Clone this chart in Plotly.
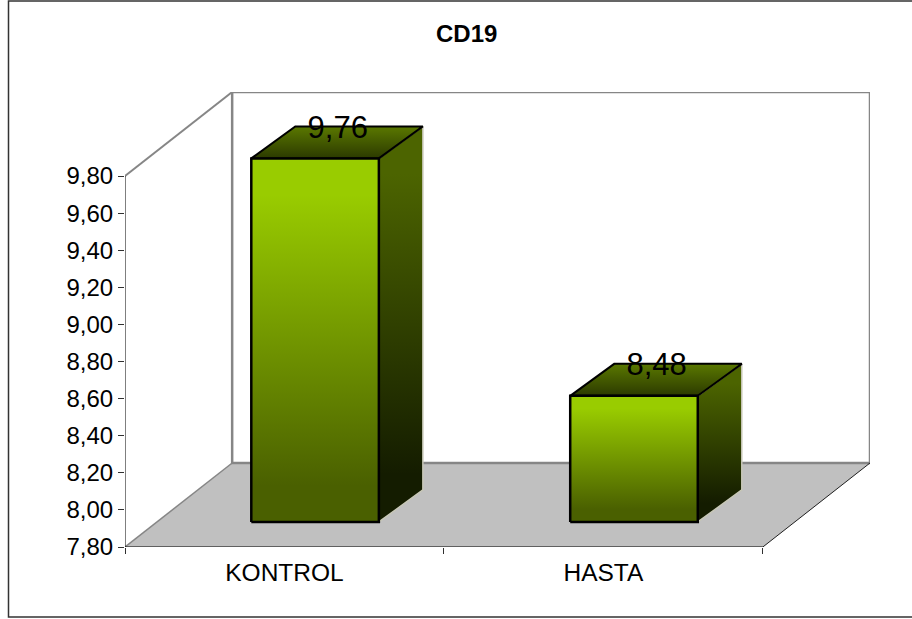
import plotly.graph_objects as go

categories = ["KONTROL", "HASTA"]
values = [9.76, 8.48]
y_ticks = [7.8, 8.0, 8.2, 8.4, 8.6, 8.8, 9.0, 9.2, 9.4, 9.6, 9.8]
chart_title = "CD19"

# Oblique projection, expressed in axis units
AX_MIN, AX_MAX = 7.8, 9.8
BAR_HALF = 0.2
BAR_SHIFT_X, BAR_SHIFT_Y = 0.096, 0.135
BAR_DEPTH_X, BAR_DEPTH_Y = 0.138, 0.1725
WALL_X, WALL_Y = 0.336, 0.453
LEFT, RIGHT = -0.5, len(categories) - 0.5

FONT = "Liberation Sans, Arial, sans-serif"
W, H = 912, 619
M_L, M_R, M_T, M_B = 125, 42, 92, 72

fig = go.Figure()


def poly(xs, ys, line=None, width=1, grad=None, fill=None):
    kw = dict(x=xs, y=ys, mode="lines", hoverinfo="skip", showlegend=False, cliponaxis=False)
    kw["line"] = dict(color=line or "rgba(0,0,0,0)", width=width)
    if grad:
        kw["fill"] = "toself"
        kw["fillgradient"] = dict(type="vertical", colorscale=grad)
    elif fill:
        kw["fill"] = "toself"
        kw["fillcolor"] = fill
    fig.add_trace(go.Scatter(**kw))


# Floor
poly([LEFT, RIGHT, RIGHT + WALL_X, LEFT + WALL_X, LEFT],
     [AX_MIN, AX_MIN, AX_MIN + WALL_Y, AX_MIN + WALL_Y, AX_MIN], fill="#C0C0C0")

# Back wall and its connection to the value axis
wall_top = AX_MAX + WALL_Y
poly([LEFT + WALL_X, RIGHT + WALL_X, RIGHT + WALL_X, LEFT + WALL_X, LEFT + WALL_X],
     [wall_top, wall_top, AX_MIN + WALL_Y, AX_MIN + WALL_Y, wall_top],
     line="#868686", width=2.5)
poly([LEFT, LEFT + WALL_X], [AX_MAX, wall_top], line="#868686", width=2)
poly([LEFT, LEFT + WALL_X], [AX_MIN, AX_MIN + WALL_Y], line="#868686", width=1.5)
poly([RIGHT, RIGHT + WALL_X], [AX_MIN, AX_MIN + WALL_Y], line="#202020", width=1)

FRONT_GRAD = [[0, "#4A6000"], [0.1, "#4A6000"], [0.9, "#99CC00"], [1, "#99CC00"]]
SIDE_GRAD = [[0, "#141C00"], [0.12, "#141C00"], [0.88, "#4C6400"], [1, "#4C6400"]]
TOP_GRAD = [[0, "#2C3A00"], [1, "#5A7800"]]

# Bars: side, top, then front face on top
for i, v in enumerate(values):
    x0 = i - BAR_HALF + BAR_SHIFT_X
    x1 = i + BAR_HALF + BAR_SHIFT_X
    b = AX_MIN + BAR_SHIFT_Y
    t = v + BAR_SHIFT_Y
    poly([x1, x1 + BAR_DEPTH_X, x1 + BAR_DEPTH_X, x1, x1],
         [b, b + BAR_DEPTH_Y, t + BAR_DEPTH_Y, t, b], line="#C8C8B8", width=1.5, grad=SIDE_GRAD)
    poly([x0, x0 + BAR_DEPTH_X, x1 + BAR_DEPTH_X, x1, x0],
         [t, t + BAR_DEPTH_Y, t + BAR_DEPTH_Y, t, t], line="#000000", width=2, grad=TOP_GRAD)
    poly([x0, x1, x1, x0, x0], [b, b, t, t, b], line="#000000", width=2.5, grad=FRONT_GRAD)

# Axis lines stop at the last tick of each scale
poly([LEFT, LEFT], [AX_MIN, AX_MAX], line="#000000", width=1)
poly([LEFT, RIGHT], [AX_MIN, AX_MIN], line="#000000", width=1)

# Value labels
fig.add_trace(go.Scatter(
    x=[i + 0.167 for i in range(len(values))],
    y=[v + 0.287 for v in values],
    mode="text",
    text=[f"{v:.2f}".replace(".", ",") for v in values],
    textposition="middle center",
    textfont=dict(family=FONT, size=31, color="#000000"),
    hoverinfo="skip", showlegend=False, cliponaxis=False,
))

fig.update_layout(
    width=W, height=H,
    margin=dict(l=M_L, r=M_R, t=M_T, b=M_B, autoexpand=False),
    paper_bgcolor="#FFFFFF", plot_bgcolor="rgba(0,0,0,0)",
    separators=", ",
    showlegend=False,
    font=dict(family=FONT, color="#000000"),
    xaxis=dict(
        range=[LEFT, RIGHT + WALL_X], showgrid=False, zeroline=False, showline=False,
        tickmode="array", tickvals=list(range(len(categories))), ticktext=categories,
        ticks="", tickfont=dict(size=24.5), ticklabelstandoff=8,
        minor=dict(tickmode="linear", tick0=LEFT, dtick=1, ticks="outside", ticklen=6,
                   tickcolor="#303030", tickwidth=1, showgrid=False),
    ),
    yaxis=dict(
        range=[AX_MIN, AX_MAX + WALL_Y], showgrid=False, zeroline=False, showline=False,
        tickmode="array", tickvals=y_ticks, tickformat=".2f",
        ticks="outside", ticklen=6, tickcolor="#303030", tickwidth=1, tickfont=dict(size=24),
    ),
    annotations=[dict(
        text=f"<b>{chart_title}</b>", xref="paper", yref="paper",
        x=(466.5 - M_L) / (W - M_L - M_R), y=1 + (M_T - 33) / (H - M_T - M_B),
        xanchor="center", yanchor="middle", showarrow=False,
        font=dict(family=FONT, size=24, color="#000000"),
    )],
    shapes=[dict(
        type="path", xref="paper", yref="paper",
        path="M {r},{t} L {l},{t} L {l},{b} L {r},{b}".format(
            l=(8.5 - M_L) / (W - M_L - M_R), r=(W + 5 - M_L) / (W - M_L - M_R),
            t=1 + (M_T - 1) / (H - M_T - M_B), b=-(617 - (H - M_B)) / (H - M_T - M_B)),
        line=dict(color="#333333", width=1.5),
    )],
)

fig.write_html("out.html")
